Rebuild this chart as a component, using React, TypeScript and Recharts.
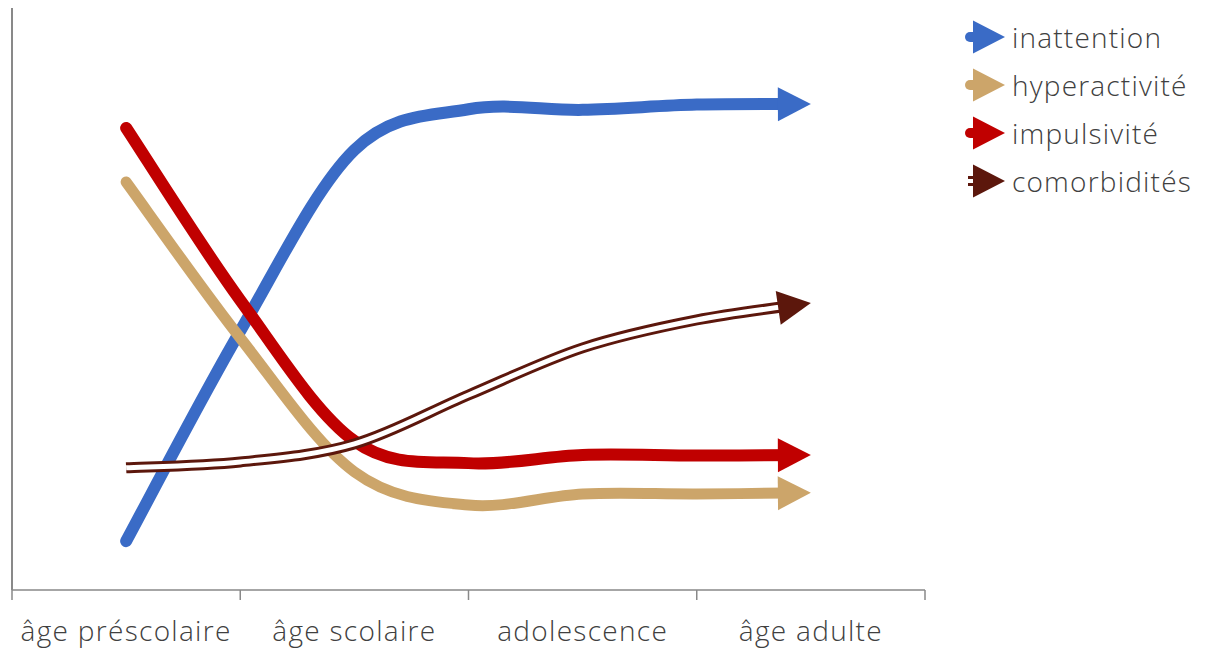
import { LineChart, Line, XAxis, YAxis, Legend } from 'recharts';

// stages of life on the x axis; each stage spans two units, marks sit on every unit
const stages = ['âge préscolaire', 'âge scolaire', 'adolescence', 'âge adulte'];
const stageTicks = [1, 3, 5, 7];
const boundaryTicks = [0, 2, 4, 6, 8];
const steps = [1, 2, 3, 4, 5, 6, 7];

const inattention = [8.4, 44.5, 75.6, 82.6, 82.5, 83.4, 83.5];
const hyperactivite = [70.1, 43.3, 20.3, 14.6, 16.5, 16.5, 16.7];
const impulsivite = [79.4, 49.8, 25.6, 21.8, 23.2, 23.1, 23.2];
const comorbidites = [21.0, 22.0, 25.1, 33.5, 41.6, 46.4, 49.3];

const series = [
  { key: 'inattention', name: 'inattention', color: '#3A6BC6', values: inattention },
  { key: 'hyper', name: 'hyperactivité', color: '#CCA56A', values: hyperactivite },
  { key: 'impuls', name: 'impulsivité', color: '#C00000', values: impulsivite },
  { key: 'comorb', name: 'comorbidités', color: '#5C170C', values: comorbidites },
];

const data = steps.map((s, i) => ({
  step: s,
  inattention: inattention[i],
  hyper: hyperactivite[i],
  impuls: impulsivite[i],
  comorb: comorbidites[i],
}));

const FONT = '"Open Sans", "Noto Sans", sans-serif';
const TEXT = '#404040';
const AXIS = '#898989';
const ARROW_LEN = 33;
const ARROW_HALF = 17;

type Pt = { x: number; y: number };

// office-style smoothed line: cubic segments whose handles follow the
// neighbouring points (catmull-rom, ends duplicated)
function smoothCurve(context: any) {
  let xs: number[] = [];
  let ys: number[] = [];
  return {
    areaStart() {},
    areaEnd() {},
    lineStart() {
      xs = [];
      ys = [];
    },
    point(x: number, y: number) {
      xs.push(+x);
      ys.push(+y);
    },
    lineEnd() {
      const n = xs.length;
      if (!n) return;
      context.moveTo(xs[0], ys[0]);
      for (let i = 0; i < n - 1; i++) {
        const a = Math.max(i - 1, 0);
        const d = Math.min(i + 2, n - 1);
        context.bezierCurveTo(
          xs[i] + (xs[i + 1] - xs[a]) / 6,
          ys[i] + (ys[i + 1] - ys[a]) / 6,
          xs[i + 1] - (xs[d] - xs[i]) / 6,
          ys[i + 1] - (ys[d] - ys[i]) / 6,
          xs[i + 1],
          ys[i + 1],
        );
      }
    },
  };
}

// the stroke fades out under the arrow head through a gradient; the head itself
// is drawn at the last point of the series, along the last segment
function makeEnd(gradId: string, color: string, arrow: string | null) {
  const seen: Pt[] = [];
  return (props: any) => {
    const { cx, cy, index } = props;
    seen[index] = { x: cx, y: cy };
    if (index !== steps.length - 1) return <g key={`d-${gradId}-${index}`} />;
    const prev = seen[index - 1];
    const vx = cx - prev.x;
    const vy = cy - prev.y;
    const len = Math.hypot(vx, vy) || 1;
    const dx = vx / len;
    const dy = vy / len;
    const bx = cx - dx * ARROW_LEN;
    const by = cy - dy * ARROW_LEN;
    const cutX = bx + dx * 3;
    const cutY = by + dy * 3;
    const nx = -dy;
    const ny = dx;
    return (
      <g key={`d-${gradId}-${index}`}>
        <defs>
          <linearGradient
            id={gradId}
            gradientUnits="userSpaceOnUse"
            x1={cutX - dx * 40}
            y1={cutY - dy * 40}
            x2={cutX + dx * 40}
            y2={cutY + dy * 40}
          >
            <stop offset="0.5" stopColor={color} stopOpacity={1} />
            <stop offset="0.5" stopColor={color} stopOpacity={0} />
          </linearGradient>
        </defs>
        {arrow && (
          <polygon
            points={`${cx},${cy} ${bx + nx * ARROW_HALF},${by + ny * ARROW_HALF} ${bx - nx * ARROW_HALF},${by - ny * ARROW_HALF}`}
            fill={arrow}
          />
        )}
      </g>
    );
  };
}

const ends = {
  inattention: makeEnd('fade-inattention', '#3A6BC6', '#3A6BC6'),
  hyper: makeEnd('fade-hyper', '#CCA56A', '#CCA56A'),
  impuls: makeEnd('fade-impuls', '#C00000', '#C00000'),
  comorbOuter: makeEnd('fade-comorb', '#5C170C', null),
  comorbInner: makeEnd('fade-comorb-inner', '#FFFFFF', '#5C170C'),
};

function LegendSymbol({ color, double }: { color: string; double: boolean }) {
  return (
    <svg width={46} height={40} style={{ display: 'block' }}>
      {double ? (
        <g stroke={color} strokeWidth={3}>
          <line x1={6} y1={16.5} x2={14} y2={16.5} />
          <line x1={6} y1={23.5} x2={14} y2={23.5} />
        </g>
      ) : (
        <line x1={8} y1={20} x2={14} y2={20} stroke={color} strokeWidth={10} strokeLinecap="round" />
      )}
      <polygon points={`43,20 11,3.5 11,36.5`} fill={color} />
    </svg>
  );
}

function SeriesLegend() {
  return (
    <div style={{ fontFamily: FONT, fontWeight: 300 }}>
      {series.map((s) => (
        <div key={s.key} style={{ display: 'flex', alignItems: 'center', height: 48 }}>
          <LegendSymbol color={s.color} double={s.key === 'comorb'} />
          <span style={{ marginLeft: 4, fontSize: 28, color: TEXT, letterSpacing: 1.2 }}>{s.name}</span>
        </div>
      ))}
    </div>
  );
}

export default function App() {
  return (
    <div style={{ position: 'absolute', left: 0, top: 0 }}>
      <LineChart
        width={1206}
        height={650}
        data={data}
        margin={{ top: 8, right: 281, bottom: 0, left: 11 }}
        style={{ fontFamily: FONT }}
      >
        <XAxis
          xAxisId="bounds"
          dataKey="step"
          type="number"
          domain={[0, 8]}
          ticks={boundaryTicks}
          tick={() => <g />}
          tickSize={10}
          height={1}
          axisLine={{ stroke: AXIS, strokeWidth: 1.5 }}
          tickLine={{ stroke: AXIS, strokeWidth: 1.5 }}
        />
        <XAxis
          xAxisId="stages"
          dataKey="step"
          type="number"
          domain={[0, 8]}
          ticks={stageTicks}
          tickFormatter={(v: number) => stages[stageTicks.indexOf(v)] ?? ''}
          axisLine={false}
          tickLine={false}
          tickSize={0}
          tickMargin={30}
          height={59}
          tick={{ fill: TEXT, fontSize: 28, fontWeight: 300, letterSpacing: 1.3 }}
        />
        <YAxis
          domain={[0, 100]}
          width={1}
          tick={false}
          tickLine={false}
          axisLine={{ stroke: AXIS, strokeWidth: 2 }}
        />
        <Legend
          layout="horizontal"
          verticalAlign="middle"
          wrapperStyle={{ top: 13, left: 962, width: 244 }}
          content={() => <SeriesLegend />}
        />
        <Line
          xAxisId="bounds"
          dataKey="inattention"
          name="inattention"
          type={smoothCurve as any}
          stroke="url(#fade-inattention)"
          strokeWidth={12}
          strokeLinecap="round"
          dot={ends.inattention}
          activeDot={false}
          isAnimationActive={false}
        />
        <Line
          xAxisId="bounds"
          dataKey="hyper"
          name="hyperactivité"
          type={smoothCurve as any}
          stroke="url(#fade-hyper)"
          strokeWidth={11}
          strokeLinecap="round"
          dot={ends.hyper}
          activeDot={false}
          isAnimationActive={false}
        />
        <Line
          xAxisId="bounds"
          dataKey="impuls"
          name="impulsivité"
          type={smoothCurve as any}
          stroke="url(#fade-impuls)"
          strokeWidth={12}
          strokeLinecap="round"
          dot={ends.impuls}
          activeDot={false}
          isAnimationActive={false}
        />
        <Line
          xAxisId="bounds"
          dataKey="comorb"
          name="comorbidités"
          type={smoothCurve as any}
          stroke="url(#fade-comorb)"
          strokeWidth={11}
          dot={ends.comorbOuter}
          activeDot={false}
          isAnimationActive={false}
        />
        <Line
          xAxisId="bounds"
          dataKey="comorb"
          legendType="none"
          type={smoothCurve as any}
          stroke="url(#fade-comorb-inner)"
          strokeWidth={5}
          dot={ends.comorbInner}
          activeDot={false}
          isAnimationActive={false}
        />
      </LineChart>
    </div>
  );
}
